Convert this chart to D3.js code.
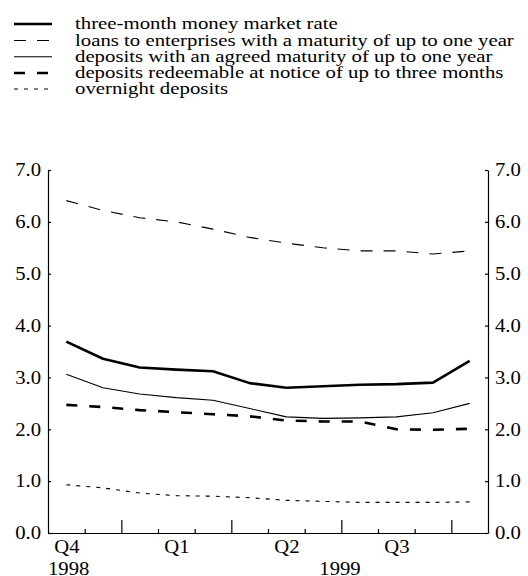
<!DOCTYPE html>
<html>
<head>
<meta charset="utf-8">
<script src="https://cdn.jsdelivr.net/npm/d3@7"></script>
<style>
  html, body { margin: 0; padding: 0; background: #fff; }
  svg text { font-family: "Liberation Serif", "Times New Roman", serif; fill: #000; }
</style>
</head>
<body>
<svg id="chart" width="528" height="576"></svg>
<script>
// ---- data (monthly, Oct 1998 – Sep 1999) ----
const months = ["Oct 1998","Nov 1998","Dec 1998","Jan 1999","Feb 1999","Mar 1999",
                "Apr 1999","May 1999","Jun 1999","Jul 1999","Aug 1999","Sep 1999"];
const moneyMarket3m   = [3.69, 3.36, 3.19, 3.15, 3.12, 2.89, 2.80, 2.83, 2.86, 2.87, 2.90, 3.32];
const loansUpTo1y     = [6.41, 6.22, 6.08, 6.00, 5.86, 5.70, 5.59, 5.50, 5.44, 5.44, 5.38, 5.44];
const depositsAgreed  = [3.06, 2.80, 2.68, 2.61, 2.56, 2.40, 2.24, 2.21, 2.22, 2.24, 2.32, 2.50];
const depositsNotice  = [2.47, 2.43, 2.37, 2.33, 2.29, 2.25, 2.17, 2.15, 2.15, 2.00, 1.99, 2.01];
const overnight       = [0.93, 0.87, 0.77, 0.72, 0.71, 0.68, 0.63, 0.61, 0.59, 0.59, 0.59, 0.60];

const seriesNames = [
  "three-month money market rate",
  "loans to enterprises with a maturity of up to one year",
  "deposits with an agreed maturity of up to one year",
  "deposits redeemable at notice of up to three months",
  "overnight deposits"
];
const quarterLabels = ["Q4", "Q1", "Q2", "Q3"];
const quarterStartIdx = [0, 3, 6, 9];
const yearLabels = ["1998", "1999"];
const yearLabelPos = [0.55, 7.95];
const yTicks = [0, 1, 2, 3, 4, 5, 6, 7];
const majorTickIdx = [2, 5, 8, 11];
const minorTickIdx = [1, 3, 4, 6, 7, 9, 10];

// ---- styles ----
const styles = [
  { w: 2.6, dash: null },
  { w: 1.1, dash: "12,11" },
  { w: 1.1, dash: null },
  { w: 2.6, dash: "11,12" },
  { w: 1.1, dash: "4,6" }
];
const seriesData = [moneyMarket3m, loansUpTo1y, depositsAgreed, depositsNotice, overnight];

const FS = 18, SX = 1.15;         // axis labels
const LFS = 16, LSX = 1.3;        // legend labels
const svg = d3.select("#chart");

const x = d3.scaleLinear().domain([0, 12]).range([48, 488]);
const y = d3.scaleLinear().domain([0, 7]).range([533, 170]);

function stretchTexts(sel, fs, sx) {
  sel.selectAll("text").style("font-size", fs + "px").each(function() {
    const t = d3.select(this);
    const xx = +t.attr("x") || 0;
    t.attr("x", xx / sx).attr("transform", `scale(${sx},1)`);
  });
}

// left axis
const gl = svg.append("g").attr("transform", `translate(${x(0)},0)`)
  .call(d3.axisLeft(y).tickValues(yTicks).tickFormat(d3.format(".1f")).tickSizeInner(-3).tickSizeOuter(0).tickPadding(7));
stretchTexts(gl, FS, SX);

// right axis
const gr = svg.append("g").attr("transform", `translate(${x(12)},0)`)
  .call(d3.axisRight(y).tickValues(yTicks).tickFormat(d3.format(".1f")).tickSizeInner(-3).tickSizeOuter(0).tickPadding(7));
stretchTexts(gr, FS, SX);

// bottom axis: minor ticks
const gbMinor = svg.append("g").attr("transform", `translate(0,${y(0)})`)
  .call(d3.axisBottom(x).tickValues(minorTickIdx).tickFormat("").tickSizeInner(-4).tickSizeOuter(0));
gbMinor.select(".domain").remove();
// major ticks + baseline
const gbMajor = svg.append("g").attr("transform", `translate(0,${y(0)})`)
  .call(d3.axisBottom(x).tickValues(majorTickIdx).tickFormat("").tickSizeInner(-13).tickSizeOuter(0));
// quarter labels
const gq = svg.append("g").attr("transform", `translate(0,${y(0)})`)
  .call(d3.axisBottom(x).tickValues(quarterStartIdx.map(d => d + 0.5))
    .tickFormat((d, i) => quarterLabels[i]).tickSize(0).tickPadding(7));
gq.select(".domain").remove();
stretchTexts(gq, FS, SX);
// year labels
const gyr = svg.append("g").attr("transform", `translate(0,${y(0)})`)
  .call(d3.axisBottom(x).tickValues(yearLabelPos)
    .tickFormat((d, i) => yearLabels[i]).tickSize(0).tickPadding(29));
gyr.select(".domain").remove();
stretchTexts(gyr, FS, SX);

svg.selectAll(".domain, .tick line").attr("stroke", "#000").attr("stroke-width", 1.2);

// lines
const line = d3.line().x((d, i) => x(i + 0.5)).y(d => y(d));
seriesData.forEach((s, k) => {
  svg.append("path").datum(s)
    .attr("fill", "none").attr("stroke", "#000")
    .attr("stroke-width", styles[k].w)
    .attr("stroke-dasharray", styles[k].dash)
    .attr("stroke-linejoin", "round")
    .attr("d", line);
});

// legend
const legendY = [24, 40.5, 56.8, 73, 89];
const lg = svg.append("g");
seriesNames.forEach((name, k) => {
  lg.append("line").attr("x1", 14).attr("x2", 52).attr("y1", legendY[k]).attr("y2", legendY[k])
    .attr("stroke", "#000").attr("stroke-width", styles[k].w)
    .attr("stroke-dasharray", styles[k].dash);
  lg.append("text").attr("x", 75).attr("y", legendY[k]).attr("dy", "0.33em").text(name);
});
stretchTexts(lg, LFS, LSX);
</script>
</body>
</html>
